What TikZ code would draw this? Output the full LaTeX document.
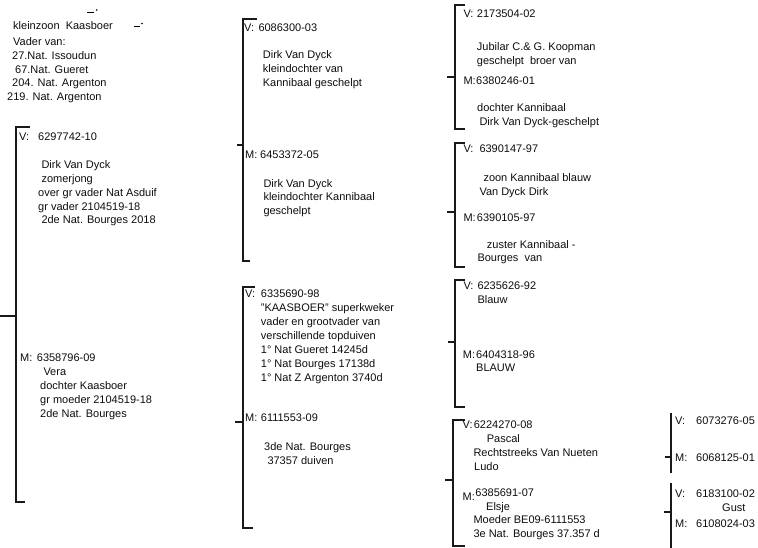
\documentclass[tikz,border=0pt]{standalone}
\usepackage{fontspec}
\setmainfont{Liberation Sans}
\begin{document}
\begin{tikzpicture}[x=1pt,y=-1pt,
  br/.style={line width=1.7pt, draw=black!90},
  txt/.style={anchor=north west, inner sep=0pt, align=left, text=black!95,
              font=\fontsize{11}{13.8}\selectfont},
  txtw/.style={txt, font=\fontsize{11}{14}\selectfont},
  txtn/.style={txt, font=\fontsize{11}{13.5}\selectfont}]
\useasboundingbox (0,0) rectangle (758,548);

% ---- stray marks at top
\draw[line width=0.8pt] (87,12.5) -- (93.5,12.5);
\fill (96.7,10) circle (0.9);
\draw[line width=0.8pt] (134,26) -- (140,26);
\fill (142,23.5) circle (0.9);

% ---- top-left text
\node[txt] (tl) at (7,21) {\hspace*{6pt}kleinzoon\ \ Kaasboer\\[2.5pt]\hspace*{6pt}Vader van:\\\hspace*{5pt}27.Nat. Issoudun\\\hspace*{8pt}67.Nat. Gueret\\\hspace*{5pt}204. Nat. Argenton\\219. Nat. Argenton};

% ---- brackets
% column 1
\coordinate (s1) at (0,316);
\coordinate (b1t) at (30,127);
\coordinate (b1b) at (25,502);
\draw[br] (b1t) -- (16,127) -- (16,502) -- (b1b);
\draw[br] (s1) -- (16,316);
% column 2
\draw[br] (257,19) -- (243,19) -- (243,261) -- (250,261);
\draw[br] (237,145) -- (243,145);
\draw[br] (255,287) -- (243,287) -- (243,528) -- (253,528);
\draw[br] (235,422) -- (243,422);
% column 3
\draw[br] (465,5) -- (455,5) -- (455,129) -- (465,129);
\draw[br] (447,77) -- (455,77);
\draw[br] (465,143) -- (455,143) -- (455,267) -- (465,267);
\draw[br] (447,212) -- (455,212);
\draw[br] (465,280) -- (455,280) -- (455,407) -- (465,407);
\draw[br] (448,342) -- (455,342);
\draw[br] (465,420) -- (453,420) -- (453,546) -- (465,546);
\draw[br] (445,480) -- (453,480);
% column 4
\draw[br] (671,413) -- (671,473);
\draw[br] (665,457) -- (671,457);
\draw[br] (671,483) -- (671,548);
\draw[br] (664,512) -- (671,512);

% ---- column 1
\node[txt] (c1vl) at (19,133) {V:};
\node[txt] (c1v) at (38,133) {6297742-10\\[14pt]\hspace*{3.3pt}Dirk Van Dyck\\\hspace*{3.3pt}zomerjong\\over gr vader Nat Asduif\\gr vader 2104519-18\\\hspace*{3.3pt}2de Nat. Bourges 2018};
\node[txt] (c1ml) at (20,354) {M:};
\node[txt] (c1m) at (36.7,354) {6358796-09\\\hspace*{6.6pt}Vera\\\hspace*{3.3pt}dochter Kaasboer\\\hspace*{3.3pt}gr moeder 2104519-18\\\hspace*{3.3pt}2de Nat. Bourges};

% ---- column 2
\node[txt] (c2avl) at (244,23.3) {V:};
\node[txt] (c2av) at (258.3,23.3) {6086300-03\\[14pt]\hspace*{4.4pt}Dirk Van Dyck\\\hspace*{4.4pt}kleindochter van\\\hspace*{4.4pt}Kannibaal geschelpt};
\node[txt] (c2aml) at (245,151) {M:};
\node[txt] (c2am) at (260,151) {6453372-05\\[14.5pt]\hspace*{3.3pt}Dirk Van Dyck\\\hspace*{3.3pt}kleindochter Kannibaal\\\hspace*{3.3pt}geschelpt};
\node[txt] (c2bvl) at (245,289.3) {V:};
\node[txtw] (c2bv) at (260.7,289.3) {6335690-98\\"KAASBOER" superkweker\\vader en grootvader van\\verschillende topduiven\\1° Nat Gueret 14245d\\1° Nat Bourges 17138d\\1° Nat Z Argenton 3740d};
\node[txt] (c2bml) at (245,413.3) {M:};
\node[txt] (c2bm) at (260.7,413.3) {6111553-09\\[15.6pt]\hspace*{3.3pt}3de Nat. Bourges\\\hspace*{6.6pt}37357 duiven};

% ---- column 3
\node[txt] (c31vl) at (463.3,9.3) {V:};
\node[txt] (c31v) at (476.7,9.3) {2173504-02\\[20pt]Jubilar C.\& G. Koopman\\geschelpt\ \ broer van};
\node[txt] (c31ml) at (463.3,76.7) {M:};
\node[txt] (c31m) at (476,76.7) {6380246-01\\[13pt]\hspace*{1pt}dochter Kannibaal\\\hspace*{3.3pt}Dirk Van Dyck-geschelpt};
\node[txt] (c32vl) at (463.3,144.3) {V:};
\node[txt] (c32v) at (479.3,144.3) {6390147-97\\[16pt]\hspace*{4pt}zoon Kannibaal blauw\\Van Dyck Dirk};
\node[txt] (c32ml) at (463.3,213.3) {M:};
\node[txt] (c32m) at (476.7,213.3) {6390105-97\\[13.2pt]\hspace*{10pt}zuster Kannibaal -\\\hspace*{0.6pt}Bourges\ \ van};
\node[txt] (c33vl) at (463.3,281.7) {V:};
\node[txt] (c33v) at (477.3,281.7) {6235626-92\\Blauw};
\node[txt] (c33ml) at (462.7,351) {M:};
\node[txt] (c33m) at (476,351) {6404318-96\\[-0.8pt]BLAUW};
\node[txt] (c34vl) at (462.5,421) {V:};
\node[txt] (c34v) at (473.6,421) {6224270-08\\\hspace*{13pt}Pascal\\\hspace*{-0.3pt}Rechtstreeks Van Nueten\\\hspace*{0.4pt}Ludo};
\node[txt] (c34ml) at (462.5,492.7) {M:};
\node[txtn] (c34m) at (475.2,489) {6385691-07\\\hspace*{10.8pt}Elsje\\\hspace*{-1.9pt}Moeder BE09-6111553\\\hspace*{-1.9pt}3e Nat. Bourges 37.357 d};

% ---- column 4
\node[txt] (c41vl) at (675,416.7) {V:};
\node[txt] (c41v) at (696,416.7) {6073276-05};
\node[txt] (c41ml) at (675,453.3) {M:};
\node[txt] (c41m) at (696,453.3) {6068125-01};
\node[txt] (c42vl) at (675,490) {V:};
\node[txt] (c42v) at (696,490) {6183100-02\\\hspace*{26pt}Gust};
\node[txt] (c42ml) at (675,520) {M:};
\node[txt] (c42m) at (696,520) {6108024-03};
\end{tikzpicture}
\end{document}
